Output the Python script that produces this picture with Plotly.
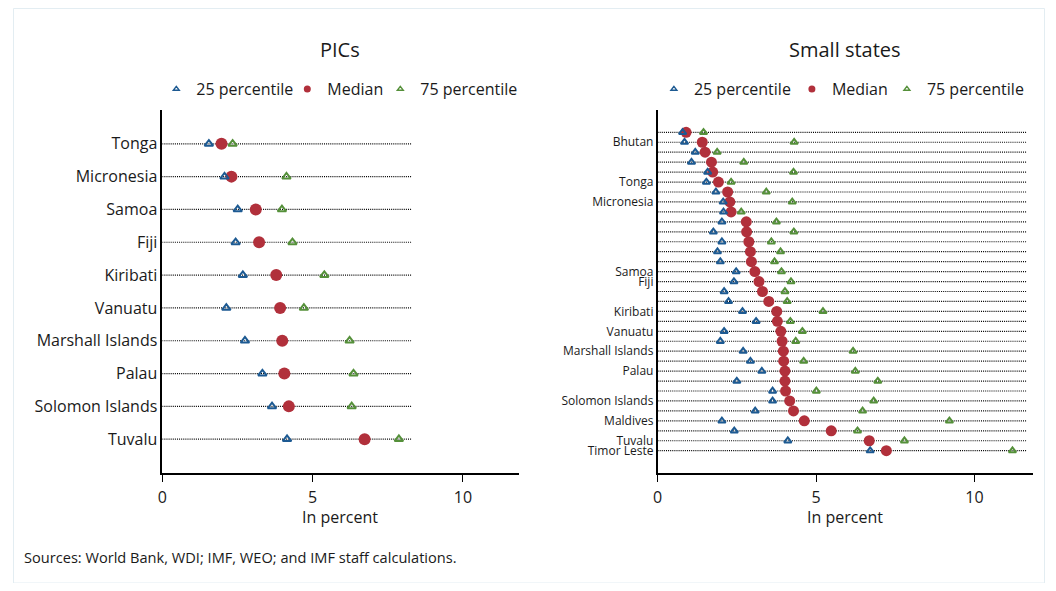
import plotly.graph_objects as go

# PICs panel
pics_names = ["Tonga", "Micronesia", "Samoa", "Fiji", "Kiribati", "Vanuatu",
              "Marshall Islands", "Palau", "Solomon Islands", "Tuvalu"]
pics_p25 = [1.55, 2.07, 2.51, 2.44, 2.68, 2.13, 2.75, 3.33, 3.65, 4.15]
pics_med = [1.97, 2.30, 3.11, 3.22, 3.79, 3.92, 3.99, 4.06, 4.21, 6.73]
pics_p75 = [2.34, 4.13, 3.98, 4.33, 5.39, 4.71, 6.23, 6.36, 6.30, 7.87]
pics_line_end = 8.29

# Small states panel (only some rows are labelled)
small_names = ["", "Bhutan", "", "", "", "Tonga", "", "Micronesia", "", "", "",
               "", "", "", "Samoa", "Fiji", "", "", "Kiribati", "", "Vanuatu", "",
               "Marshall Islands", "", "Palau", "", "", "Solomon Islands", "",
               "Maldives", "", "Tuvalu", "Timor Leste"]
small_p25 = [0.79, 0.85, 1.19, 1.07, 1.58, 1.54, 1.84, 2.07, 2.08, 2.03, 1.76,
             2.03, 1.89, 1.98, 2.48, 2.41, 2.10, 2.24, 2.68, 3.11, 2.10, 1.98,
             2.70, 2.93, 3.29, 2.50, 3.63, 3.63, 3.08, 2.03, 2.42, 4.11, 6.71]
small_med = [0.90, 1.41, 1.50, 1.70, 1.74, 1.92, 2.21, 2.28, 2.32, 2.80, 2.81,
             2.88, 2.93, 2.96, 3.07, 3.20, 3.31, 3.51, 3.76, 3.78, 3.89, 3.93,
             3.97, 3.98, 4.02, 4.02, 4.04, 4.17, 4.29, 4.63, 5.48, 6.68, 7.22]
small_p75 = [1.45, 4.31, 1.88, 2.72, 4.29, 2.32, 3.43, 4.25, 2.64, 3.75, 4.30,
             3.59, 3.88, 3.69, 3.91, 4.21, 4.02, 4.09, 5.22, 4.19, 4.57, 4.36,
             6.17, 4.61, 6.24, 6.95, 5.01, 6.82, 6.47, 9.21, 6.31, 7.79, 11.20]
small_line_end = 11.65

legend_names = ["25 percentile", "Median", "75 percentile"]

BLUE = "#1d5a92"
RED = "#b1303b"
GREEN = "#55903a"
FONT = "Open Sans"

# the page adds a margin round the figure, so draw it a bit smaller
W, H, OFFX, OFFY = 1037, 575, 11, 8


def px(x):
    return (x - OFFX) / W


def py(y):
    return 1 - (y - OFFY) / H


fig = go.Figure()


def add_panel(names, p25, med, p75, line_end, xa, ya, legend, tri, dot, key_widths):
    rows = list(range(len(names)))
    # dotted guide lines
    lx, ly = [], []
    for r in rows:
        lx += [0, line_end, None]
        ly += [r, r, None]
    fig.add_trace(go.Scatter(x=lx, y=ly, mode="lines", xaxis=xa, yaxis=ya,
                             line=dict(color="black", width=1.2, dash="1px,1.1px"),
                             showlegend=False, hoverinfo="skip"))
    series = [(legend_names[1], med, "circle", RED, dot, 0, 2, key_widths[1]),
              (legend_names[0], p25, "triangle-up-open", BLUE, tri, 2, 1, key_widths[0]),
              (legend_names[2], p75, "triangle-up-open", GREEN, tri, 2, 3, key_widths[2])]
    for name, vals, sym, col, size, lw, rank, lwidth in series:
        fig.add_trace(go.Scatter(x=vals, y=rows, mode="markers", name=name,
                                 xaxis=xa, yaxis=ya, showlegend=False,
                                 marker=dict(symbol=sym, size=size, color=col,
                                             line=dict(width=lw, color=col))))
        # legend entry with the small symbol used in the key
        fig.add_trace(go.Scatter(x=[None], y=[None], mode="markers", name=name,
                                 xaxis=xa, yaxis=ya, legend=legend, legendrank=rank,
                                 legendwidth=lwidth,
                                 marker=dict(symbol=sym, size=7 if sym == "circle" else 5,
                                             color=col, line=dict(width=1.5 if lw else 0,
                                                                  color=col))))


add_panel(pics_names, pics_p25, pics_med, pics_p75, pics_line_end, "x", "y", "legend",
          7.5, 12, [86, 48, 97])
add_panel(small_names, small_p25, small_med, small_p75, small_line_end, "x2", "y2", "legend2",
          6.5, 11, [93, 50, 97])

xcommon = dict(range=[0, 11.85], tickvals=[0, 5, 10], ticks="outside", ticklen=7,
               tickcolor="black", showline=True, linecolor="black", linewidth=1.5,
               showgrid=False, zeroline=False, ticklabelstandoff=2,
               tickfont=dict(size=16, color="#1a1a1a"))
ycommon = dict(showline=True, linecolor="black", linewidth=1.5, showgrid=False,
               zeroline=False, ticks="")

top = py(110)
bottom = py(473)
legend_common = dict(orientation="h", xanchor="left", y=py(89), yanchor="middle",
                     font=dict(size=16), bgcolor="rgba(0,0,0,0)", itemwidth=30)
left_dom = [px(161), px(519)]
right_dom = [px(658.7), px(1036)]

fig.update_layout(
    width=W, height=H,
    margin=dict(l=0, r=0, t=0, b=0),
    paper_bgcolor="white", plot_bgcolor="white",
    font=dict(family=FONT, color="#1a1a1a"),
    xaxis=dict(domain=left_dom, anchor="y", **xcommon),
    yaxis=dict(domain=[bottom, top], anchor="x", range=[len(pics_names) - 1 + 1.03, -1.03],
               tickvals=list(range(len(pics_names))), ticktext=pics_names,
               tickfont=dict(size=16, color="#1a1a1a"), **ycommon),
    xaxis2=dict(domain=right_dom, anchor="y2", **xcommon),
    yaxis2=dict(domain=[bottom, top], anchor="x2", range=[len(small_names) - 1 + 2.24, -2.24],
                tickvals=list(range(len(small_names))), ticktext=small_names,
                tickfont=dict(size=12, color="#1a1a1a"), **ycommon),
    legend=dict(x=px(155), **legend_common),
    legend2=dict(x=px(655), **legend_common),
    showlegend=True,
)

for dom, title in [(left_dom, "PICs"), (right_dom, "Small states")]:
    mid = (dom[0] + dom[1]) / 2
    fig.add_annotation(text=title, x=mid, y=py(50), xref="paper", yref="paper",
                       xanchor="center", yanchor="middle", showarrow=False,
                       font=dict(size=20))
    fig.add_annotation(text="In percent", x=mid, y=py(517), xref="paper", yref="paper",
                       xanchor="center", yanchor="middle", showarrow=False,
                       font=dict(size=16))

fig.add_annotation(text="Sources: World Bank, WDI; IMF, WEO; and IMF staff calculations.",
                   x=px(20), y=py(557), xref="paper", yref="paper", yanchor="middle",
                   xanchor="left", showarrow=False, font=dict(size=14.6))

# light frame round the whole chart
fig.add_shape(type="rect", xref="paper", yref="paper",
              x0=px(11.5), x1=px(1047.5), y0=py(583), y1=py(8.5),
              line=dict(color="#e3edf2", width=1), fillcolor="rgba(0,0,0,0)", layer="below")

fig.write_html("out.html")
